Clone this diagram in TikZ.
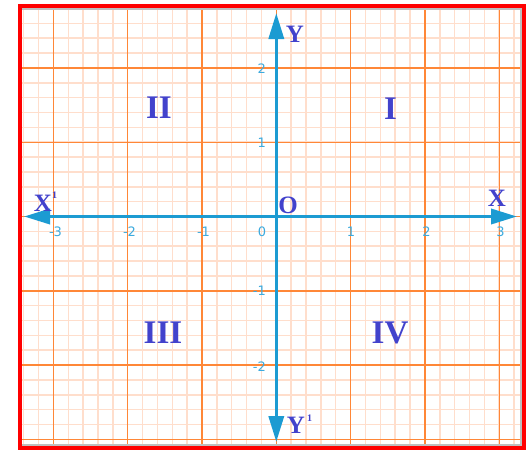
\documentclass[tikz,border=0pt]{standalone}
\usepackage{fontspec}
\setmainfont{Liberation Serif}
\newfontfamily\tickfont{DejaVu Sans}
\usetikzlibrary{arrows.meta}
\definecolor{minorc}{RGB}{255,222,204}
\definecolor{majorc}{RGB}{255,135,55}
\definecolor{axisc}{RGB}{28,155,210}
\definecolor{labc}{RGB}{66,66,204}
\definecolor{tickc}{RGB}{60,170,222}
\definecolor{framec}{RGB}{255,0,0}
\definecolor{greyc}{RGB}{190,190,190}
\tikzset{
  minorline/.style={draw=minorc,line width=1.5pt},
  majorline/.style={draw=majorc,line width=1.4pt},
  axisline/.style={draw=axisc,line width=3.5pt,
    {Triangle[length=26pt,width=15pt]}-{Triangle[length=26pt,width=15pt]}},
  ticklab/.style={inner sep=0pt,text=tickc,font=\tickfont\fontsize{13}{13}\selectfont},
  quad/.style={inner sep=0pt,text=labc,font=\fontsize{33}{33}\selectfont\bfseries},
  axlab/.style={inner sep=0pt,text=labc,font=\fontsize{25}{25}\selectfont\bfseries},
  suplab/.style={inner sep=0pt,text=labc,font=\fontsize{10}{10}\selectfont\bfseries},
}
\begin{document}
\begin{tikzpicture}[x=1pt,y=-1pt]
\useasboundingbox (0,0) rectangle (527,450);
\fill[white] (0,0) rectangle (527,450);
% grid
\begin{scope}
  \clip (22,8) rectangle (520,444);
  \foreach \k in {-17,...,16}{
    \draw[minorline] ({276.3+\k*14.86},8) -- ({276.3+\k*14.86},444);
  }
  \foreach \k in {-14,...,15}{
    \draw[minorline] (22,{216.5+\k*14.86}) -- (520,{216.5+\k*14.86});
  }
  \foreach \k in {-3,...,3}{
    \draw[majorline] ({276.3+\k*74.3},8) -- ({276.3+\k*74.3},444);
  }
  \foreach \k in {-2,...,3}{
    \draw[majorline] (22,{216.5+\k*74.3}) -- (520,{216.5+\k*74.3});
  }
\end{scope}
% inner grey border
\draw[greyc,line width=2pt] (22,9) -- (520.5,9) -- (520.5,445) -- (22,445);
% red frame
\draw[framec,line width=4pt] (20,6) rectangle (524,448.3);
% axes
\coordinate (xl) at (24,216.5);
\coordinate (xr) at (517,216.5);
\coordinate (yt) at (276.3,13);
\coordinate (yb) at (276.3,442);
\draw[axisline] (xl) -- (xr);
\draw[axisline] (yb) -- (yt);
% x tick labels
\node[ticklab] (tx1) at (55.5,232) {-3};
\node[ticklab] (tx2) at (129.5,232) {-2};
\node[ticklab] (tx3) at (203.5,232) {-1};
\node[ticklab] (tx4) at (262,232) {0};
\node[ticklab] (tx5) at (351,232) {1};
\node[ticklab] (tx6) at (426.5,232) {2};
\node[ticklab] (tx7) at (500.5,232) {3};
% y tick labels
\node[ticklab,anchor=east] (ty1) at (266,69) {2};
\node[ticklab,anchor=east] (ty2) at (266,143) {1};
\node[ticklab,anchor=east] (ty3) at (266,291) {-1};
\node[ticklab,anchor=east] (ty4) at (266,367) {-2};
% quadrant labels
\node[quad] (q1) at (390.5,108.5) {I};
\node[quad] (q2) at (159,107.5) {II};
\node[quad] (q3) at (163,332.5) {III};
\node[quad] (q4) at (390,332.5) {IV};
% axis labels
\node[axlab] (lx) at (497,198.5) {X};
\node[axlab] (lx1) at (43,203) {X};
\node[suplab] (lx1s) at (54.5,195) {1};
\node[axlab] (ly) at (295,34) {Y};
\node[axlab] (ly1) at (296,425) {Y};
\node[suplab] (ly1s) at (309.5,418) {1};
\node[axlab] (lo) at (288,205) {O};
\end{tikzpicture}
\end{document}
